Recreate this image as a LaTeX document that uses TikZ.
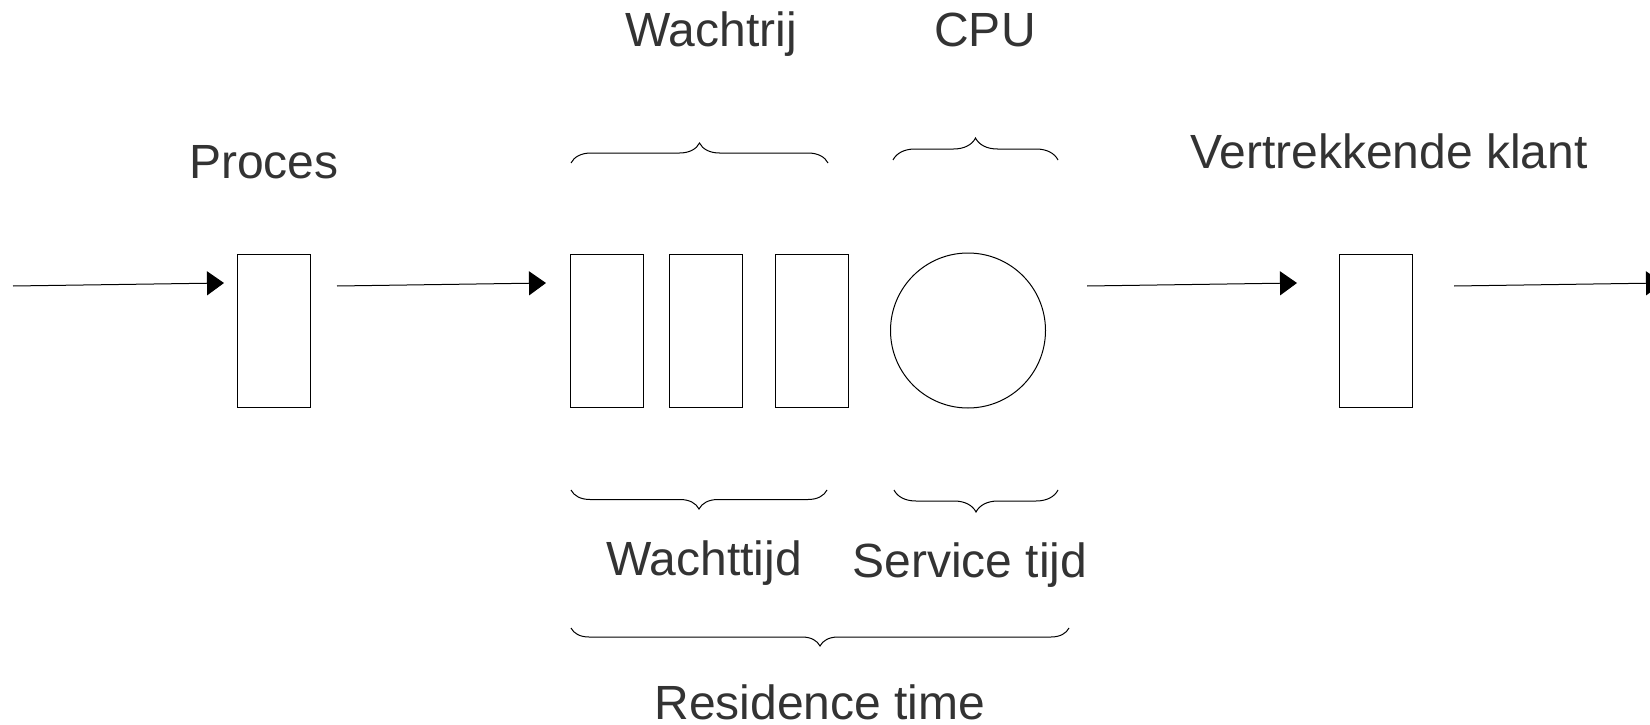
\documentclass[tikz,border=0pt]{standalone}
\usepackage{fontspec}
\setmainfont{Liberation Sans}
\usetikzlibrary{arrows.meta,decorations.pathreplacing}
\definecolor{txt}{HTML}{333333}
\begin{document}
\begin{tikzpicture}[x=1pt,y=-1pt,
  lbl/.style={font=\fontsize{48}{50}\selectfont, text=txt, anchor=base, inner sep=0pt},
  slot/.style={draw=black, line width=1pt, minimum width=73pt, minimum height=153pt, inner sep=0pt},
  flow/.style={line width=1pt, -{Triangle[length=17pt,width=24pt]}},
  brc/.style={line width=1pt, decorate, decoration={brace, amplitude=#1}}]
\useasboundingbox (0,0) rectangle (1650,725);
% boxes
\node[slot] (p1) at (273.5,330.5) {};
\node[slot] (q1) at (607,330.5) {};
\node[slot] (q2) at (706,330.5) {};
\node[slot] (q3) at (812,330.5) {};
\node[draw=black, line width=1pt, circle, minimum size=155pt, inner sep=0pt] (cpu) at (968,330.5) {};
\node[slot] (p2) at (1375.5,330.5) {};
% arrows
\coordinate (a1s) at (13,286); \coordinate (a1e) at (224,283);
\coordinate (a2s) at (337,286); \coordinate (a2e) at (546,283);
\coordinate (a3s) at (1087,286); \coordinate (a3e) at (1297,283);
\coordinate (a4s) at (1454,286); \coordinate (a4e) at (1663,283);
\draw[flow] (a1s) -- (a1e);
\draw[flow] (a2s) -- (a2e);
\draw[flow] (a3s) -- (a3e);
\draw[flow] (a4s) -- (a4e);
% braces
\coordinate (b1l) at (571,163); \coordinate (b1r) at (828,163);
\coordinate (b2l) at (893,160); \coordinate (b2r) at (1058,160);
\coordinate (b3l) at (571,490); \coordinate (b3r) at (827,490);
\coordinate (b4l) at (894,490); \coordinate (b4r) at (1058,490);
\coordinate (b5l) at (571,628); \coordinate (b5r) at (1069,628);
\draw[brc=20pt] (b1l) -- (b1r);
\draw[brc=22pt] (b2l) -- (b2r);
\draw[brc=19pt] (b3r) -- (b3l);
\draw[brc=22pt] (b4r) -- (b4l);
\draw[brc=18pt] (b5r) -- (b5l);
% labels
\node[lbl] (tw) at (711,47) {Wachtrij};
\node[lbl] (tc) at (985,47) {CPU};
\node[lbl] (tp) at (264,178) {Proces};
\node[lbl] (tv) at (1389,168) {Vertrekkende klant};
\node[lbl] (tt) at (704,575) {Wachttijd};
\node[lbl] (ts) at (970,577) {Service tijd};
\node[lbl] (tr) at (820,719) {Residence time};
\end{tikzpicture}
\end{document}
